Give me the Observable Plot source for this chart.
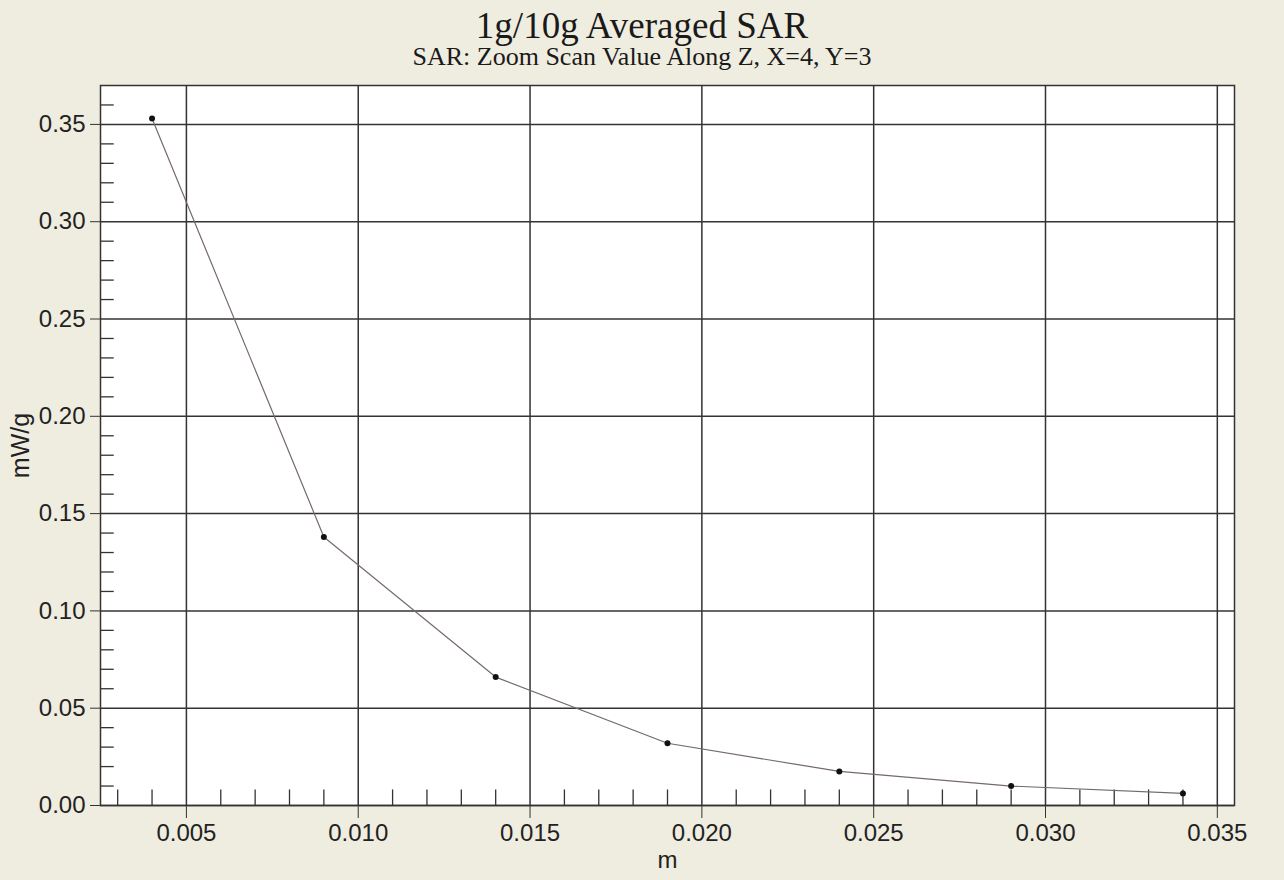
<!DOCTYPE html>
<html>
<head>
<meta charset="utf-8">
<script src="https://cdn.jsdelivr.net/npm/d3@7"></script>
<script src="https://cdn.jsdelivr.net/npm/@observablehq/plot@0.6"></script>
<style>
  html, body { margin: 0; padding: 0; background: #efede0; }
  #wrap { width: 1284px; height: 880px; position: relative; overflow: hidden; }
  #header { position: relative; height: 70px; width: 1284px; }
  .t { position: absolute; width: 100%; text-align: center; font-family: "Liberation Serif", "Times New Roman", serif; color: #1a1a1a; line-height: 1; }
  #title { top: 7px; font-size: 37px; }
  #subtitle { top: 44px; font-size: 26px; }
  svg { background: transparent; }
</style>
</head>
<body>
<div id="wrap">
  <div id="header">
    <div class="t" id="title">1g/10g Averaged SAR</div>
    <div class="t" id="subtitle">SAR: Zoom Scan Value Along Z, X=4, Y=3</div>
  </div>
  <div id="chart"></div>
</div>
<script>
// Data
const depth = [0.004, 0.009, 0.014, 0.019, 0.024, 0.029, 0.034];      // m
const sar   = [0.353, 0.138, 0.066, 0.032, 0.0175, 0.010, 0.0062];     // mW/g

// Axis ticks
const xTicks = [0.005, 0.010, 0.015, 0.020, 0.025, 0.030, 0.035];
const yTicks = [0.00, 0.05, 0.10, 0.15, 0.20, 0.25, 0.30, 0.35];
const xMinor = [0.003, 0.004, 0.006, 0.007, 0.008, 0.009, 0.011, 0.012, 0.013, 0.014,
                0.016, 0.017, 0.018, 0.019, 0.021, 0.022, 0.023, 0.024, 0.026, 0.027,
                0.028, 0.029, 0.031, 0.032, 0.033, 0.034];
const yMinor = [0.01, 0.02, 0.03, 0.04, 0.06, 0.07, 0.08, 0.09, 0.11, 0.12, 0.13, 0.14,
                0.16, 0.17, 0.18, 0.19, 0.21, 0.22, 0.23, 0.24, 0.26, 0.27, 0.28, 0.29,
                0.31, 0.32, 0.33, 0.34, 0.36];

const xTitle = "m";
const yTitle = "mW/g";

const data = depth.map((d, i) => ({x: d, y: sar[i]}));
const xDomain = [0.0025, 0.0355];
const yDomain = [0, 0.37];

const chart = Plot.plot({
  width: 1284,
  height: 810,
  marginTop: 15,
  marginBottom: 75,
  marginLeft: 100,
  marginRight: 50,
  style: {fontFamily: "'Liberation Sans', Arial, sans-serif", color: "#222", background: "transparent"},
  x: {domain: xDomain},
  y: {domain: yDomain},
  marks: [
    Plot.frame({fill: "white", stroke: "none"}),
    Plot.gridX(xTicks, {stroke: "#333", strokeOpacity: 1, strokeWidth: 1.5}),
    Plot.gridY(yTicks, {stroke: "#333", strokeOpacity: 1, strokeWidth: 1.5}),
    Plot.ruleX(xMinor, {y1: 0, y2: 0.008, stroke: "#333", strokeWidth: 1.3}),
    Plot.ruleY(yMinor, {x1: xDomain[0], x2: xDomain[0] + 0.0004, stroke: "#333", strokeWidth: 1.3}),
    Plot.frame({stroke: "#333", strokeWidth: 1.5}),
    Plot.axisX(xTicks, {tickSize: 13, tickPadding: 5, fontSize: 24, tickFormat: d3.format(".3f"), label: null, stroke: "#333"}),
    Plot.axisY(yTicks, {tickSize: 10, tickPadding: 5, fontSize: 24, tickFormat: d3.format(".2f"), label: null, stroke: "#333"}),
    Plot.line(data, {x: "x", y: "y", stroke: "#75696b", strokeWidth: 1.2}),
    Plot.dot(data, {x: "x", y: "y", r: 3, fill: "#111", stroke: "none"}),
    Plot.text([xTitle], {frameAnchor: "bottom", dy: 62, fontSize: 24, fill: "#222"}),
    Plot.text([yTitle], {frameAnchor: "left", textAnchor: "middle", dx: -80, rotate: -90, fontSize: 25, fill: "#222"})
  ]
});
document.getElementById("chart").appendChild(chart);
</script>
</body>
</html>
